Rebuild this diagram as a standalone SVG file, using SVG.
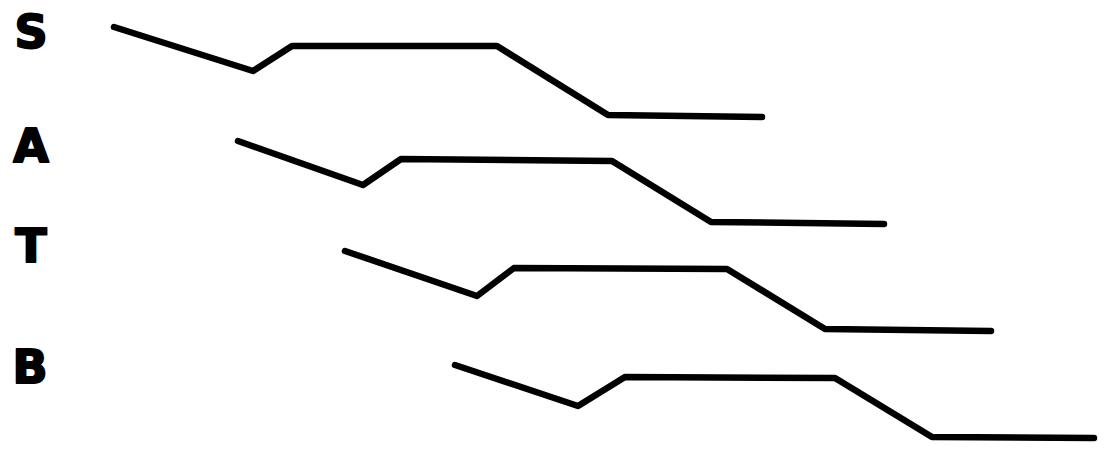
<svg xmlns="http://www.w3.org/2000/svg" width="1106" height="451" viewBox="0 0 1106 451">
<style>
.lbl{font-family:"DejaVu Sans",sans-serif;font-weight:bold;font-size:46px;fill:#000;stroke:#000;stroke-width:2;stroke-linejoin:round;text-anchor:middle}
.ln{fill:none;stroke:#000;stroke-width:6.5;stroke-linejoin:round;stroke-linecap:round}
</style>
<rect width="1106" height="451" fill="#fff"/>
<g id="label-S"><text class="lbl" x="31" y="48">S</text></g>
<g id="label-A"><text class="lbl" x="31" y="162">A</text></g>
<g id="label-T"><text class="lbl" x="31" y="262">T</text></g>
<g id="label-B"><text class="lbl" x="30" y="383">B</text></g>
<g id="connectors">
<polyline id="line-S" class="ln" points="114,27 253,71 292,46 497,46 608,115 762,117"/>
<polyline id="line-A" class="ln" points="238,141 363,185 401,159 612,161 711,222 884,224"/>
<polyline id="line-T" class="ln" points="345,251 477,296 514,268 727,269 825,329 991,331"/>
<polyline id="line-B" class="ln" points="455,365 578,406 625,377 835,378 932,437 1094,438"/>
</g>
</svg>
